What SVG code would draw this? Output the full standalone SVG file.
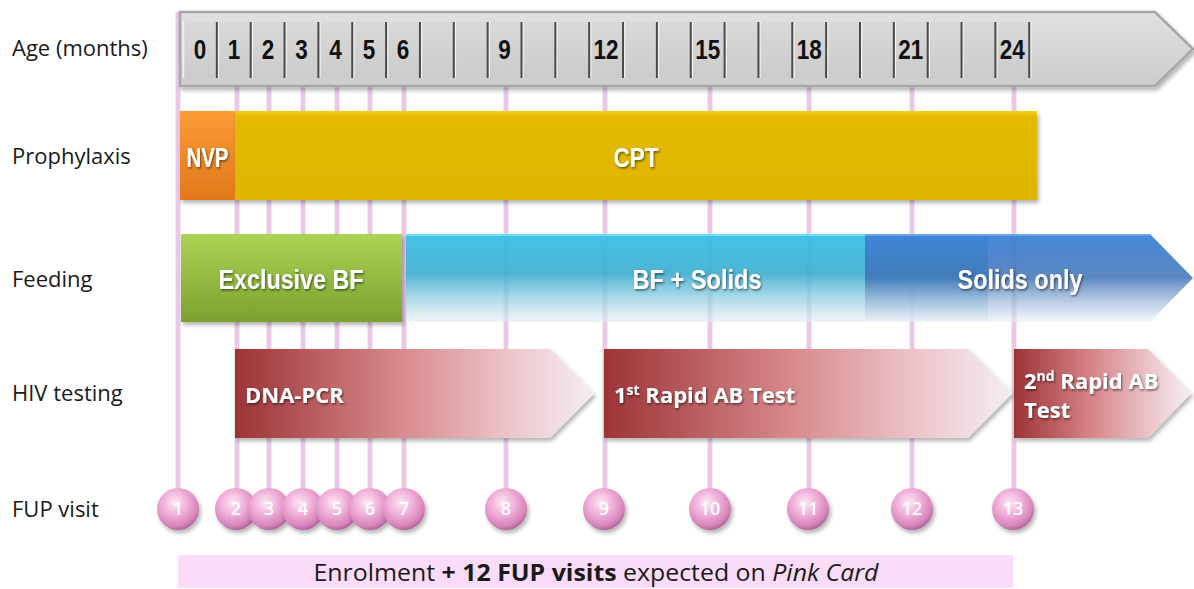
<svg xmlns="http://www.w3.org/2000/svg" width="1194" height="589" viewBox="0 0 1194 589">
<defs>
  <linearGradient id="gBar" x1="0" y1="0" x2="0" y2="1"><stop offset="0" stop-color="#e0e0e0"/><stop offset="1" stop-color="#cdcdcd"/></linearGradient>
  <linearGradient id="gCell" x1="0" y1="0" x2="0" y2="1"><stop offset="0" stop-color="#d9d9d9"/><stop offset="1" stop-color="#cbcbcb"/></linearGradient>
  <linearGradient id="gNvp" x1="0" y1="0" x2="0" y2="1"><stop offset="0" stop-color="#fa9c34"/><stop offset="1" stop-color="#e2781c"/></linearGradient>
  <linearGradient id="gCpt" x1="0" y1="0" x2="0" y2="1"><stop offset="0" stop-color="#f2d21a"/><stop offset="0.06" stop-color="#e3ba06"/><stop offset="1" stop-color="#dfb500"/></linearGradient>
  <linearGradient id="gEbf" x1="0" y1="0" x2="0" y2="1"><stop offset="0" stop-color="#abd355"/><stop offset="1" stop-color="#7ba22f"/></linearGradient>
  <linearGradient id="gBfs" x1="0" y1="0" x2="0" y2="1"><stop offset="0" stop-color="#3cc2e6" stop-opacity="0.97"/><stop offset="0.45" stop-color="#3aaccf" stop-opacity="0.9"/><stop offset="1" stop-color="#e4eef2" stop-opacity="0.6"/></linearGradient>
  <linearGradient id="gSol" x1="0" y1="0" x2="0" y2="1"><stop offset="0" stop-color="#3f84d8" stop-opacity="0.97"/><stop offset="0.5" stop-color="#3f73b6" stop-opacity="0.85"/><stop offset="1" stop-color="#e8eef6" stop-opacity="0.55"/></linearGradient>
  <linearGradient id="gRed" x1="0" y1="0" x2="1" y2="0"><stop offset="0" stop-color="#9c3437"/><stop offset="0.45" stop-color="#d7878a"/><stop offset="0.78" stop-color="#ecc8cd"/><stop offset="1" stop-color="#f4eef4"/></linearGradient>
  <radialGradient id="gBall" cx="0.42" cy="0.35" r="0.66"><stop offset="0" stop-color="#fde8f5"/><stop offset="0.45" stop-color="#f0afd8"/><stop offset="0.85" stop-color="#d584b8"/><stop offset="1" stop-color="#b0629a"/></radialGradient>
  <filter id="shadow" x="-5%" y="-10%" width="115%" height="135%"><feDropShadow dx="2" dy="3" stdDeviation="2" flood-color="#000" flood-opacity="0.3"/></filter>
  <filter id="tshadow" x="-10%" y="-20%" width="130%" height="150%"><feDropShadow dx="1" dy="1.5" stdDeviation="1" flood-color="#000" flood-opacity="0.55"/></filter>
  <style>
    .lbl{font-family:"Open Sans","Liberation Sans",sans-serif;font-size:22px;fill:#1a1a1a}
    .mon{font-family:"Liberation Sans Narrow","Liberation Sans",sans-serif;font-weight:bold;font-size:28px;fill:#111;text-anchor:middle}
    .bt{font-family:"Liberation Sans Narrow","Liberation Sans",sans-serif;font-weight:bold;font-size:27px;fill:#fff;text-anchor:middle;filter:url(#tshadow)}
    .hiv{font-family:"Open Sans","Liberation Sans",sans-serif;font-weight:bold;font-size:22px;fill:#fff;filter:url(#tshadow)}
    .num{font-family:"Open Sans","Liberation Sans",sans-serif;font-weight:600;font-size:18px;fill:#fff;text-anchor:middle}
    .vsh{stroke:#bcbcbc;stroke-width:5;opacity:0.55;fill:none}
    .vln{stroke:#efc2ef;stroke-width:3;fill:none}
    .ball{fill:url(#gBall);filter:url(#shadow)}
    .cell{fill:url(#gCell)}
  </style>
</defs>
<rect width="1194" height="589" fill="#fff"/>

<g id="row-labels" class="lbl">
  <text x="12" y="56">Age (months)</text>
  <text x="12" y="164">Prophylaxis</text>
  <text x="12" y="287">Feeding</text>
  <text x="12" y="401">HIV testing</text>
  <text x="12" y="517">FUP visit</text>
</g>

<g id="connectors">
  <path class="vsh" d="M178,12V490 M237,86V490 M269,86V490 M303,86V490 M337,86V490 M370,86V490 M404,86V490 M506,86V490 M605,86V490 M710,86V490 M809,86V490 M912,86V490 M1014,86V490"/>
  <path class="vln" d="M178,12V490 M237,86V490 M269,86V490 M303,86V490 M337,86V490 M370,86V490 M404,86V490 M506,86V490 M605,86V490 M710,86V490 M809,86V490 M912,86V490 M1014,86V490"/>
</g>

<g id="timeline">
  <path d="M180,12H1155L1193,49L1155,86H180Z" fill="url(#gBar)" stroke="#a6a6a6" stroke-width="2.5" filter="url(#shadow)"/>
  <rect class="cell" x="183" y="22" width="846.25" height="56"/>
  <path d="M183.5,22V78" stroke="#f2f2f2" stroke-width="1.5"/>
  <path d="M218.35,22V78 M252.2,22V78 M286.05,22V78 M319.9,22V78 M353.75,22V78 M387.6,22V78 M421.45,22V78 M455.3,22V78 M489.15,22V78 M523,22V78 M556.85,22V78 M590.7,22V78 M624.55,22V78 M658.4,22V78 M692.25,22V78 M726.1,22V78 M759.95,22V78 M793.8,22V78 M827.65,22V78 M861.5,22V78 M895.35,22V78 M929.2,22V78 M963.05,22V78 M996.9,22V78 M1030.75,22V78" stroke="#f4f4f4" stroke-width="1.5"/>
  <path d="M216.85,22V78 M250.7,22V78 M284.55,22V78 M318.4,22V78 M352.25,22V78 M386.1,22V78 M419.95,22V78 M453.8,22V78 M487.65,22V78 M521.5,22V78 M555.35,22V78 M589.2,22V78 M623.05,22V78 M656.9,22V78 M690.75,22V78 M724.6,22V78 M758.45,22V78 M792.3,22V78 M826.15,22V78 M860,22V78 M893.85,22V78 M927.7,22V78 M961.55,22V78 M995.4,22V78 M1029.25,22V78" stroke="#4a4a4a" stroke-width="2"/>
  <g class="mon">
    <text x="200" y="59" textLength="12.5" lengthAdjust="spacingAndGlyphs">0</text>
    <text x="234" y="59" textLength="12.5" lengthAdjust="spacingAndGlyphs">1</text>
    <text x="268" y="59" textLength="12.5" lengthAdjust="spacingAndGlyphs">2</text>
    <text x="301.5" y="59" textLength="12.5" lengthAdjust="spacingAndGlyphs">3</text>
    <text x="335.5" y="59" textLength="12.5" lengthAdjust="spacingAndGlyphs">4</text>
    <text x="369" y="59" textLength="12.5" lengthAdjust="spacingAndGlyphs">5</text>
    <text x="403" y="59" textLength="12.5" lengthAdjust="spacingAndGlyphs">6</text>
    <text x="504.5" y="59" textLength="12.5" lengthAdjust="spacingAndGlyphs">9</text>
    <text x="606" y="59" textLength="25" lengthAdjust="spacingAndGlyphs">12</text>
    <text x="707.7" y="59" textLength="25" lengthAdjust="spacingAndGlyphs">15</text>
    <text x="809.2" y="59" textLength="25" lengthAdjust="spacingAndGlyphs">18</text>
    <text x="910.8" y="59" textLength="25" lengthAdjust="spacingAndGlyphs">21</text>
    <text x="1012.3" y="59" textLength="25" lengthAdjust="spacingAndGlyphs">24</text>
  </g>
</g>

<g id="prophylaxis-nvp">
  <rect x="180" y="111" width="55" height="89" fill="url(#gNvp)" filter="url(#shadow)"/>
  <text class="bt" x="207.5" y="167" textLength="42" lengthAdjust="spacingAndGlyphs">NVP</text>
</g>
<g id="prophylaxis-cpt">
  <rect x="235" y="111" width="802" height="89" fill="url(#gCpt)" filter="url(#shadow)"/>
  <text class="bt" x="636" y="167" textLength="45" lengthAdjust="spacingAndGlyphs">CPT</text>
</g>

<g id="feeding-exclusive-bf">
  <rect x="181" y="234" width="221" height="88" fill="url(#gEbf)" filter="url(#shadow)"/>
  <text class="bt" x="291" y="289" textLength="145" lengthAdjust="spacingAndGlyphs">Exclusive BF</text>
</g>
<g id="feeding-bf-solids">
  <rect x="406" y="234" width="582" height="88" fill="url(#gBfs)"/>
  <path d="M406,235H988" stroke="#6fdcf6" stroke-width="2"/>
  <text class="bt" x="697" y="289" textLength="129" lengthAdjust="spacingAndGlyphs">BF + Solids</text>
</g>
<g id="feeding-solids-only">
  <path d="M865,234H1150L1193,278L1150,322H865Z" fill="url(#gSol)"/>
  <path d="M865,235H1150" stroke="#6aa4ea" stroke-width="2"/>
  <text class="bt" x="1020" y="289" textLength="125" lengthAdjust="spacingAndGlyphs">Solids only</text>
</g>

<g id="hiv-dna-pcr">
  <path d="M235,349H550L594,393.5L550,438H235Z" fill="url(#gRed)" filter="url(#shadow)"/>
  <text class="hiv" x="245" y="403" font-size="24.5">DNA-PCR</text>
</g>
<g id="hiv-rapid-1">
  <path d="M604,349H968L1012,393.5L968,438H604Z" fill="url(#gRed)" filter="url(#shadow)"/>
  <text class="hiv" x="614" y="403">1<tspan font-size="14" dy="-8">st</tspan><tspan dy="8"> Rapid AB Test</tspan></text>
</g>
<g id="hiv-rapid-2">
  <path d="M1014,349H1148L1191,393.5L1148,438H1014Z" fill="url(#gRed)" filter="url(#shadow)"/>
  <text class="hiv" x="1024" y="389">2<tspan font-size="14" dy="-8">nd</tspan><tspan dy="8"> Rapid AB</tspan></text>
  <text class="hiv" x="1024" y="418">Test</text>
</g>

<g id="visit-1"><circle class="ball" cx="178" cy="509" r="21"/><text class="num" x="178" y="515">1</text></g>
<g id="visit-2"><circle class="ball" cx="236" cy="509" r="21"/><text class="num" x="236" y="515">2</text></g>
<g id="visit-3"><circle class="ball" cx="269" cy="509" r="21"/><text class="num" x="269" y="515">3</text></g>
<g id="visit-4"><circle class="ball" cx="303" cy="509" r="21"/><text class="num" x="303" y="515">4</text></g>
<g id="visit-5"><circle class="ball" cx="337" cy="509" r="21"/><text class="num" x="337" y="515">5</text></g>
<g id="visit-6"><circle class="ball" cx="370" cy="509" r="21"/><text class="num" x="370" y="515">6</text></g>
<g id="visit-7"><circle class="ball" cx="404" cy="509" r="21"/><text class="num" x="404" y="515">7</text></g>
<g id="visit-8"><circle class="ball" cx="506" cy="509" r="21"/><text class="num" x="506" y="515">8</text></g>
<g id="visit-9"><circle class="ball" cx="604" cy="509" r="21"/><text class="num" x="604" y="515">9</text></g>
<g id="visit-10"><circle class="ball" cx="710" cy="509" r="21"/><text class="num" x="710" y="515">10</text></g>
<g id="visit-11"><circle class="ball" cx="808" cy="509" r="21"/><text class="num" x="808" y="515">11</text></g>
<g id="visit-12"><circle class="ball" cx="912" cy="509" r="21"/><text class="num" x="912" y="515">12</text></g>
<g id="visit-13"><circle class="ball" cx="1013" cy="509" r="21"/><text class="num" x="1013" y="515">13</text></g>

<g id="banner">
  <rect x="178" y="555" width="835" height="33" fill="#fadcf8"/>
  <text x="596" y="581" text-anchor="middle" font-family="'Open Sans','Liberation Sans',sans-serif" font-size="23.5" fill="#1a1a1a" textLength="565" lengthAdjust="spacingAndGlyphs">Enrolment <tspan font-weight="bold">+ 12 FUP visits</tspan> expected on <tspan font-style="italic">Pink Card</tspan></text>
</g>
</svg>
